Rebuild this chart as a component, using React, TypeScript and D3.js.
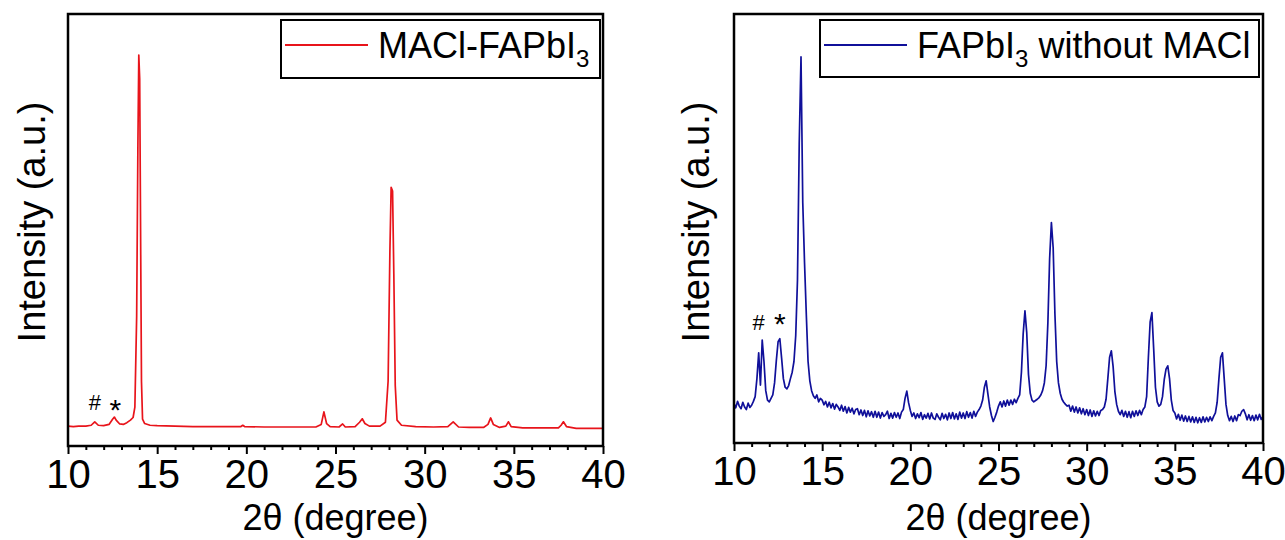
import React, { useEffect, useRef } from 'react';
import * as d3 from 'd3';

// 2-theta tick labels (major every 5 deg, minor every 1 deg)
const majorTicks = [10, 15, 20, 25, 30, 35, 40];
const minorTicks = d3.range(10, 41, 1).filter((t) => t % 5 !== 0);

// MACl-FAPbI3 pattern as [2theta, intensity]
const maclSeries: [number, number][] = [
  [10.0, 46], [10.3, 45], [10.6, 46], [11.0, 46], [11.3, 48], [11.5, 56], [11.7, 48],
  [12.0, 47], [12.3, 50], [12.5, 62], [12.6, 67], [12.7, 60], [12.9, 51], [13.1, 50],
  [13.3, 54], [13.5, 60], [13.65, 66], [13.75, 90], [13.85, 300], [13.92, 700],
  [13.97, 905], [14.02, 850], [14.07, 500], [14.12, 150], [14.18, 62], [14.3, 52],
  [14.6, 48], [15.0, 47], [16.0, 46], [17.0, 45], [18.0, 45], [19.0, 45], [19.7, 45],
  [19.8, 48], [19.9, 45], [21.0, 44], [22.0, 44], [23.0, 44], [23.9, 44], [24.2, 50],
  [24.35, 79], [24.5, 52], [24.7, 45], [25.2, 44], [25.4, 51], [25.55, 44], [26.1, 45],
  [26.35, 55], [26.5, 63], [26.65, 52], [26.9, 46], [27.5, 46], [27.8, 55], [27.95, 150],
  [28.05, 450], [28.12, 599], [28.2, 590], [28.27, 400], [28.35, 140], [28.45, 60],
  [28.7, 48], [29.5, 45], [30.5, 44], [31.3, 45], [31.6, 56], [31.9, 44], [32.5, 43],
  [33.3, 43], [33.55, 50], [33.7, 65], [33.85, 50], [34.2, 43], [34.55, 46], [34.7, 56],
  [34.85, 45], [35.5, 42], [36.5, 42], [37.5, 42], [37.65, 48], [37.78, 56], [37.95, 45],
  [38.5, 41], [39.5, 41], [40.0, 41],
];

// FAPbI3 without MACl, sampled every 0.1 deg from 10 to 40
const pureTheta = d3.range(0, 301).map((i) => +(10 + i * 0.1).toFixed(1));
const pureIntensity = [
  92, 82, 97, 86, 80, 95, 84, 78, 93, 83,
  88, 97, 108, 150, 210, 135, 240, 190, 122, 100,
  96, 104, 112, 140, 192, 236, 243, 198, 150, 130,
  126, 134, 150, 165, 190, 250, 380, 700, 900, 560,
  420, 300, 190, 145, 122, 110, 104, 112, 96, 104,
  100, 89, 97, 84, 95, 82, 92, 79, 90, 84,
  76, 88, 74, 85, 70, 83, 72, 81, 68, 78,
  80, 66, 77, 64, 76, 61, 75, 63, 73, 60,
  74, 60, 72, 58, 71, 62, 66, 74, 57, 69,
  58, 71, 60, 70, 57, 72, 78, 104, 121, 94,
  76, 62, 70, 57, 68, 59, 71, 55, 66, 58,
  69, 56, 70, 58, 55, 68, 60, 54, 69, 57,
  67, 54, 70, 57, 71, 56, 68, 55, 72, 58,
  70, 57, 73, 60, 71, 58, 74, 62, 72, 78,
  86, 100, 130, 145, 114, 84, 64, 50, 60, 72,
  86, 96, 84, 98, 86, 100, 88, 100, 90, 102,
  94, 104, 112, 165, 255, 308, 258, 160, 116, 100,
  96, 99, 102, 106, 112, 122, 140, 180, 280, 430,
  514, 455, 300, 190, 140, 116, 102, 95, 90, 86,
  88, 74, 86, 72, 84, 70, 82, 68, 80, 66,
  78, 64, 77, 62, 75, 63, 74, 64, 76, 78,
  84, 102, 150, 200, 215, 178, 120, 90, 74, 66,
  76, 62, 74, 60, 73, 59, 74, 62, 75, 64,
  76, 66, 78, 84, 108, 200, 282, 304, 220, 130,
  96, 86, 90, 108, 148, 172, 180, 150, 100, 76,
  70, 56, 67, 53, 65, 51, 63, 50, 62, 49,
  61, 48, 60, 47, 59, 48, 61, 49, 60, 50,
  61, 52, 62, 70, 95, 150, 200, 210, 150, 90,
  64, 52, 62, 50, 63, 52, 66, 64, 74, 78,
  68, 54, 66, 53, 64, 52, 65, 54, 67, 55,
  62,
];
const pureSeries: [number, number][] = pureTheta.map((t, i) => [t, pureIntensity[i]]);

const FONT = "'Liberation Sans', Arial, Helvetica, sans-serif";

const panels = [
  {
    left: 68, right: 603, top: 14, bottom: 446, color: '#e8141b',
    data: maclSeries, label: ['MACl-FAPbI', '3', ''],
    legend: { x: 281, y: 20, w: 319, h: 58 }, titleX: 45,
    marks: [{ s: '#', t: 11.5, y: 84, size: 22 }, { s: '*', t: 12.65, y: 60, size: 30 }],
  },
  {
    left: 734, right: 1263, top: 14, bottom: 443, color: '#10109a',
    data: pureSeries, label: ['FAPbI', '3', ' without MACl'],
    legend: { x: 820, y: 20, w: 439, h: 57 }, titleX: 709,
    marks: [{ s: '#', t: 11.4, y: 263, size: 22 }, { s: '*', t: 12.6, y: 254, size: 30 }],
  },
];

const App = () => {
  const svgRef = useRef<SVGSVGElement | null>(null);

  useEffect(() => {
    const svg = d3.select(svgRef.current);
    svg.selectAll('*').remove();

    panels.forEach((p) => {
      const g = svg.append('g');
      const x = d3.scaleLinear().domain([10, 40]).range([p.left, p.right]);
      const y = d3.scaleLinear().domain([0, 1000]).range([p.bottom, p.top]);

      // pattern
      g.append('path')
        .datum(p.data)
        .attr('fill', 'none')
        .attr('stroke', p.color)
        .attr('stroke-width', 1.7)
        .attr('stroke-linejoin', 'round')
        .attr('d', d3.line<[number, number]>().x((d) => x(d[0])).y((d) => y(d[1])));

      // frame
      g.append('rect')
        .attr('x', p.left)
        .attr('y', p.top)
        .attr('width', p.right - p.left)
        .attr('height', p.bottom - p.top)
        .attr('fill', 'none')
        .attr('stroke', '#000')
        .attr('stroke-width', 2.5);

      // bottom axis, major ticks + labels
      const ax = g.append('g')
        .attr('transform', `translate(0, ${p.bottom})`)
        .call(d3.axisBottom(x).tickValues(majorTicks).tickSize(8).tickPadding(6).tickFormat(d3.format('d')));
      ax.select('.domain').remove();
      ax.selectAll('line').attr('stroke-width', 2);
      ax.selectAll('text').attr('font-size', 40).attr('font-family', FONT).attr('fill', '#000');

      const mx = g.append('g')
        .attr('transform', `translate(0, ${p.bottom})`)
        .call(d3.axisBottom(x).tickValues(minorTicks).tickSize(4).tickFormat(() => ''));
      mx.select('.domain').remove();
      mx.selectAll('line').attr('stroke-width', 2);

      // axis titles
      g.append('text')
        .attr('x', (p.left + p.right) / 2)
        .attr('y', 530)
        .attr('text-anchor', 'middle')
        .attr('font-family', FONT)
        .attr('font-size', 36)
        .text('2θ (degree)');

      g.append('text')
        .attr('transform', `translate(${p.titleX}, 222) rotate(-90)`)
        .attr('text-anchor', 'middle')
        .attr('font-family', FONT)
        .attr('font-size', 38)
        .text('Intensity (a.u.)');

      // peak markers
      p.marks.forEach((m) => {
        g.append('text')
          .attr('x', x(m.t))
          .attr('y', y(m.y))
          .attr('text-anchor', 'middle')
          .attr('font-family', FONT)
          .attr('font-size', m.size)
          .text(m.s);
      });

      // legend
      const lg = g.append('g');
      lg.append('rect')
        .attr('x', p.legend.x)
        .attr('y', p.legend.y)
        .attr('width', p.legend.w)
        .attr('height', p.legend.h)
        .attr('fill', '#fff')
        .attr('stroke', '#000')
        .attr('stroke-width', 2);
      lg.append('line')
        .attr('x1', p.legend.x + 4)
        .attr('x2', p.legend.x + 87)
        .attr('y1', p.legend.y + 25)
        .attr('y2', p.legend.y + 25)
        .attr('stroke', p.color)
        .attr('stroke-width', 2);
      const t = lg.append('text')
        .attr('x', p.legend.x + 97)
        .attr('y', p.legend.y + 38)
        .attr('font-family', FONT)
        .attr('font-size', 36);
      t.append('tspan').text(p.label[0]);
      t.append('tspan').attr('font-size', 24).attr('dy', 9).text(p.label[1]);
      if (p.label[2]) t.append('tspan').attr('dy', -9).text(p.label[2]);
    });
  }, []);

  return (
    <svg
      ref={svgRef}
      width={1285}
      height={540}
      style={{ position: 'absolute', left: 0, top: 0, background: '#fff' }}
    />
  );
};

export default App;
